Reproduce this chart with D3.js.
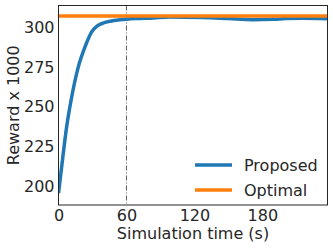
<!DOCTYPE html>
<html>
<head>
<meta charset="utf-8">
<script src="https://cdn.jsdelivr.net/npm/d3@7"></script>
<style>
  body { margin: 0; background: #fff; }
  text { font-family: "DejaVu Sans", sans-serif; fill: #262626; }
</style>
</head>
<body>
<svg id="chart" width="333" height="249"></svg>
<script>
// Data
const proposedTime = [0, 2.8, 7.2, 11.6, 17.5, 23.4, 29.3, 34, 38.1, 46.9, 60, 67.5, 83.6, 98, 127.5, 150, 171.6, 190, 201, 215, 230.7, 237.5];
const proposedReward = [196, 212.5, 237.5, 256, 275, 287.5, 296.9, 300.5, 302.1, 303.75, 304.8, 305.2, 305.6, 306.2, 305.9, 305.2, 304.5, 304.8, 305.2, 305.4, 305.3, 305.1];
const optimalTime = [0, 237.5];
const optimalReward = [306.9, 306.9];
const xTicks = [0, 60, 120, 180];
const yTicks = [200, 225, 250, 275, 300];
const markerTime = 60;

const svg = d3.select("#chart");
const margin = { top: 5.5, right: 5.5, bottom: 44, left: 58.5 };
const width = 333 - margin.left - margin.right;
const height = 249 - margin.top - margin.bottom;
const fontSize = "16px";

const chart = svg.append("g")
    .attr("transform", `translate(${margin.left},${margin.top})`);

// Scales
const xScale = d3.scaleLinear().domain([0, 237.5]).range([0, width]);
const yScale = d3.scaleLinear().domain([188.6, 313.4]).range([height, 0]);

// Axes (no tick marks, labels only)
const xAxis = d3.axisBottom(xScale).tickValues(xTicks).tickSize(0).tickPadding(5);
const yAxis = d3.axisLeft(yScale).tickValues(yTicks).tickSize(0).tickPadding(4);

const gx = chart.append("g")
    .attr("transform", `translate(0,${height})`)
    .call(xAxis);
const gy = chart.append("g").call(yAxis);
[gx, gy].forEach(g => {
    g.select(".domain").remove();
    g.selectAll("text")
        .style("font-family", "DejaVu Sans, sans-serif")
        .style("font-size", fontSize)
        .attr("fill", "#262626");
});

// Clip for lines
chart.append("clipPath").attr("id", "clip")
    .append("rect").attr("width", width).attr("height", height);

// Vertical marker at 60 s
chart.append("line")
    .attr("x1", xScale(markerTime)).attr("x2", xScale(markerTime))
    .attr("y1", 0).attr("y2", height)
    .attr("stroke", "#333")
    .attr("stroke-width", 0.8)
    .attr("stroke-dasharray", "5,2,1,2");

const line = d3.line()
    .x(d => xScale(d[0]))
    .y(d => yScale(d[1]))
    .curve(d3.curveMonotoneX);

chart.append("path")
    .datum(proposedTime.map((t, i) => [t, proposedReward[i]]))
    .attr("clip-path", "url(#clip)")
    .attr("fill", "none")
    .attr("stroke", "#1f77b4")
    .attr("stroke-width", 3.5)
    .attr("d", line);

chart.append("path")
    .datum(optimalTime.map((t, i) => [t, optimalReward[i]]))
    .attr("clip-path", "url(#clip)")
    .attr("fill", "none")
    .attr("stroke", "#ff7f0e")
    .attr("stroke-width", 3.5)
    .attr("d", line);

// Frame
chart.append("rect")
    .attr("width", width).attr("height", height)
    .attr("fill", "none")
    .attr("stroke", "#262626")
    .attr("stroke-width", 1);

// Axis labels
chart.append("text")
    .attr("x", width / 2)
    .attr("y", height + 34)
    .style("text-anchor", "middle")
    .style("font-size", fontSize)
    .text("Simulation time (s)");

chart.append("text")
    .attr("transform", "rotate(-90)")
    .attr("x", -height / 2)
    .attr("y", -39.5)
    .style("text-anchor", "middle")
    .style("font-size", fontSize)
    .text("Reward x 1000");

// Legend
const legend = [["Proposed", "#1f77b4"], ["Optimal", "#ff7f0e"]];
const lg = chart.selectAll(".legend")
    .data(legend)
    .enter().append("g")
    .attr("class", "legend")
    .attr("transform", (d, i) => `translate(${195 - margin.left},${165 - margin.top + i * 25})`);
lg.append("line")
    .attr("x1", 0).attr("x2", 37)
    .attr("stroke", d => d[1])
    .attr("stroke-width", 3.5);
lg.append("text")
    .attr("x", 49)
    .attr("y", 6)
    .style("font-size", fontSize)
    .text(d => d[0]);
</script>
</body>
</html>
